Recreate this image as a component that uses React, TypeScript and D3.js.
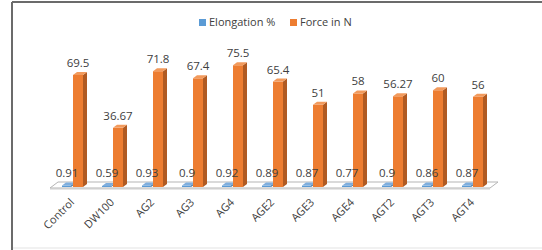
import React from 'react';
import * as d3 from 'd3';

const categories = ['Control', 'DW100', 'AG2', 'AG3', 'AG4', 'AGE2', 'AGE3', 'AGE4', 'AGT2', 'AGT3', 'AGT4'];
const elongation = [0.91, 0.59, 0.93, 0.9, 0.92, 0.89, 0.87, 0.77, 0.9, 0.86, 0.87];
const force = [69.5, 36.67, 71.8, 67.4, 75.5, 65.4, 51, 58, 56.27, 60, 56];
const forceLabels = ['69.5', '36.67', '71.8', '67.4', '75.5', '65.4', '51', '58', '56.27', '60', '56'];
const elongLabels = ['0.91', '0.59', '0.93', '0.9', '0.92', '0.89', '0.87', '0.77', '0.9', '0.86', '0.87'];

const W = 542;
const H = 250;
const FONT = '"Open Sans", sans-serif';
const TEXT = '#404040';

const x = d3.scaleBand().domain(categories).range([50, 490]);
const y = d3.scaleLinear().domain([0, 80]).range([187, 58]);

// depth offsets for the fake 3D look
const DX = 4;
const DY = -3;

const palette = {
  elong: { front: '#5B9BD5', side: '#41729F', top: '#7FAEDD' },
  force: { front: '#ED7D31', side: '#B05A22', top: '#F29A5C' },
};

function Bar3D({ x0, w, v, colors }: { x0: number; w: number; v: number; colors: { front: string; side: string; top: string } }) {
  const y0 = y(0);
  const yt = y(v);
  const side = [[x0 + w, y0], [x0 + w + DX, y0 + DY], [x0 + w + DX, yt + DY], [x0 + w, yt]];
  const top = [[x0, yt], [x0 + DX, yt + DY], [x0 + w + DX, yt + DY], [x0 + w, yt]];
  const pts = (p: number[][]) => p.map(d => d.join(',')).join(' ');
  return (
    <g>
      <polygon points={pts(side)} fill={colors.side} />
      <rect x={x0} y={yt} width={w} height={Math.max(y0 - yt, 0.5)} fill={colors.front} />
      <polygon points={pts(top)} fill={colors.top} />
    </g>
  );
}

export default function App() {
  const floorY = y(0) + 1;
  const floor = [[50, floorY], [490, floorY], [498, floorY - 6], [58, floorY - 6]];
  return (
    <svg width={W} height={H} style={{ position: 'absolute', left: 0, top: 0, background: '#fff' }}>
      {/* frame */}
      <line x1={12} y1={2} x2={W} y2={2} stroke="#3a3a3a" strokeWidth={1.5} />
      <line x1={12} y1={2} x2={12} y2={H} stroke="#6b6b6b" strokeWidth={2} />
      <line x1={13} y1={248} x2={W} y2={248} stroke="#e3e3e3" strokeWidth={1} />

      {/* legend */}
      <rect x={199} y={19} width={7} height={7} fill={palette.elong.front} />
      <text x={209} y={26} fontFamily={FONT} fontSize={11} fill={TEXT}>Elongation %</text>
      <rect x={290} y={19} width={7} height={7} fill={palette.force.front} />
      <text x={300} y={26} fontFamily={FONT} fontSize={11} fill={TEXT}>Force in N</text>

      {/* floor */}
      <polygon points={floor.map(d => d.join(',')).join(' ')} fill="#ffffff" stroke="#b5b5b5" strokeWidth={1} />
      <rect x={50} y={floorY} width={440} height={1.5} fill="#d0d0d0" />

      {categories.map((c, i) => {
        const b = x(c) ?? 0;
        return (
          <g key={c}>
            <Bar3D x0={b + 12} w={9} v={elongation[i]} colors={palette.elong} />
            <Bar3D x0={b + 23} w={10} v={force[i]} colors={palette.force} />
          </g>
        );
      })}

      {categories.map((c, i) => {
        const b = x(c) ?? 0;
        return (
          <g key={c + 'l'} fontFamily={FONT} fontSize={11.5} fill={TEXT} textAnchor="middle">
            <text x={b + 17} y={y(elongation[i]) - 9}>{elongLabels[i]}</text>
            <text x={b + 28} y={y(force[i]) - 8}>{forceLabels[i]}</text>
          </g>
        );
      })}

      {categories.map(c => {
        const cx = (x(c) ?? 0) + x.bandwidth() / 2 + 5;
        const cy = 203;
        return (
          <text key={c + 'x'} x={cx} y={cy} transform={`rotate(-45,${cx},${cy})`} textAnchor="end"
            fontFamily={FONT} fontSize={11} fill={TEXT}>{c}</text>
        );
      })}
    </svg>
  );
}
